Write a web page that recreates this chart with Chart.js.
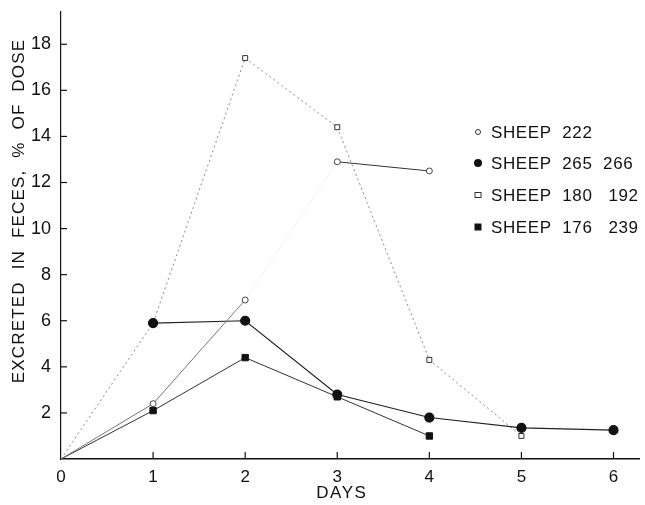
<!DOCTYPE html>
<html>
<head>
<meta charset="utf-8">
<script src="https://cdn.jsdelivr.net/npm/chart.js@4.4.1/dist/chart.umd.min.js"></script>
<style>
  html, body { margin: 0; padding: 0; background: #fff; }
  #wrap { width: 645px; height: 505px; position: relative; }
</style>
</head>
<body>
<div id="wrap"><canvas id="chart-feces"></canvas></div>
<script>
// days on the x axis, values in % of dose
const days = [0, 1, 2, 3, 4, 5, 6];
const sheep222 = [0, 2.4, 6.9, 12.9, 12.5];
const sheep265 = [0, 5.9, 6.0, 2.8, 1.8, 1.35, 1.25];
const sheep180 = [0, 5.9, 17.4, 14.4, 4.3, 1.0];
const sheep176 = [0, 2.1, 4.4, 2.7, 1.0];
const seriesLabels = ['SHEEP  222', 'SHEEP  265  266', 'SHEEP  180   192', 'SHEEP  176   239'];
const yTicks = [2, 4, 6, 8, 10, 12, 14, 16, 18];
const xTicks = [0, 1, 2, 3, 4, 5, 6];

const FONT = "'Liberation Sans', Arial, sans-serif";
const toPoints = (vals) => vals.map((v, i) => ({ x: days[i], y: v }));
const noOrigin = (n, r) => Array.from({ length: n }, (_, i) => i === 0 ? 0 : r);

/* --- inward tick marks, titles, legend --- */
const paperPlugin = {
  id: 'paper',
  afterDraw(chart) {
    const { ctx: c, chartArea: { left, bottom }, scales: { x, y } } = chart;
    c.save();
    c.strokeStyle = '#111';
    c.lineWidth = 1.2;
    xTicks.forEach(v => {
      if (v === 0) return;
      const px = x.getPixelForValue(v);
      c.beginPath(); c.moveTo(px, bottom); c.lineTo(px, bottom - 7); c.stroke();
    });
    yTicks.forEach(v => {
      const py = y.getPixelForValue(v);
      c.beginPath(); c.moveTo(left, py); c.lineTo(left + 6, py); c.stroke();
    });

    // axis titles
    c.fillStyle = '#111';
    c.font = '17px ' + FONT;
    c.letterSpacing = '1.5px';
    c.textAlign = 'center';
    c.textBaseline = 'middle';
    c.fillText('DAYS', x.getPixelForValue(3.05), 493);
    c.save();
    c.translate(19, 211);
    c.rotate(-Math.PI / 2);
    c.letterSpacing = '1.2px';
    c.fillText('EXCRETED  IN  FECES,  %  OF  DOSE', 0, 0);
    c.restore();

    // legend
    c.letterSpacing = '0.6px';
    c.font = '17px ' + FONT;
    c.textAlign = 'left';
    const rows = [132, 163, 195, 227];
    chart.data.datasets.forEach((ds, i) => {
      const yy = rows[i], xx = 478;
      c.lineWidth = 1;
      c.strokeStyle = '#333';
      if (i === 0) {
        c.beginPath(); c.arc(xx, yy, 2.5, 0, Math.PI * 2); c.stroke();
      } else if (i === 1) {
        c.fillStyle = '#111';
        c.beginPath(); c.arc(xx, yy, 4, 0, Math.PI * 2); c.fill();
      } else if (i === 2) {
        c.strokeRect(xx - 3, yy - 2.5, 6, 5);
      } else {
        c.fillStyle = '#111';
        c.fillRect(xx - 3.5, yy - 3.5, 7, 7);
      }
      c.fillStyle = '#111';
      c.fillText(ds.label, 491, yy + 1);
    });
    c.restore();
  }
};

const ctx = document.getElementById('chart-feces');
ctx.chart = new Chart(ctx, {
  type: 'line',
  data: {
    datasets: [
      {
        label: seriesLabels[0],
        data: toPoints(sheep222),
        borderColor: '#777',
        borderWidth: 1,
        segment: { borderColor: (s) => s.p0DataIndex === 2 ? 'rgba(0,0,0,0.06)' : (s.p0DataIndex === 3 ? '#333' : '#777') },
        pointStyle: 'circle',
        pointRadius: noOrigin(sheep222.length, 3),
        pointBackgroundColor: '#fff',
        pointBorderColor: '#444',
        pointBorderWidth: 1,
        tension: 0
      },
      {
        label: seriesLabels[1],
        data: toPoints(sheep265),
        borderColor: '#222',
        borderWidth: 1.2,
        segment: { borderColor: (s) => s.p0DataIndex === 0 ? 'rgba(0,0,0,0)' : '#222' },
        pointStyle: 'circle',
        pointRadius: noOrigin(sheep265.length, 4.5),
        pointBackgroundColor: '#111',
        pointBorderColor: '#111',
        tension: 0
      },
      {
        label: seriesLabels[2],
        data: toPoints(sheep180),
        borderColor: '#8a8a8a',
        borderWidth: 1,
        borderDash: [2, 3],
        pointStyle: 'rect',
        pointRadius: noOrigin(sheep180.length, 3.5),
        pointBackgroundColor: '#fff',
        pointBorderColor: '#333',
        pointBorderWidth: 1,
        tension: 0
      },
      {
        label: seriesLabels[3],
        data: toPoints(sheep176),
        borderColor: '#333',
        borderWidth: 1,
        pointStyle: 'rect',
        pointRadius: noOrigin(sheep176.length, 4.5),
        pointBackgroundColor: '#111',
        pointBorderColor: '#111',
        tension: 0
      }
    ]
  },
  plugins: [paperPlugin],
  options: {
    responsive: true,
    maintainAspectRatio: false,
    animation: false,
    layout: { padding: { top: 12, right: 0, left: 0, bottom: 0 } },
    plugins: { legend: { display: false }, tooltip: { enabled: false } },
    scales: {
      x: {
        type: 'linear',
        min: 0,
        max: 6.28,
        afterFit: (s) => { s.height = 46; s.paddingLeft = 0; s.paddingRight = 0; },
        afterBuildTicks: (s) => { s.ticks = xTicks.map(v => ({ value: v })); },
        grid: { display: false, drawTicks: false },
        border: { display: true, color: '#111', width: 1.5 },
        ticks: {
          padding: 8,
          color: '#111',
          font: { family: FONT, size: 17 },
          maxRotation: 0,
          callback: (v) => String(v)
        }
      },
      y: {
        min: 0,
        max: 19.4,
        afterFit: (s) => { s.width = 61; s.paddingTop = 0; s.paddingBottom = 0; },
        afterBuildTicks: (s) => { s.ticks = yTicks.map(v => ({ value: v })); },
        grid: { display: false, drawTicks: false },
        border: { display: true, color: '#111', width: 1.2 },
        ticks: {
          padding: 10,
          color: '#111',
          font: { family: FONT, size: 18 },
          callback: (v) => String(v)
        }
      }
    }
  }
});
</script>
</body>
</html>
